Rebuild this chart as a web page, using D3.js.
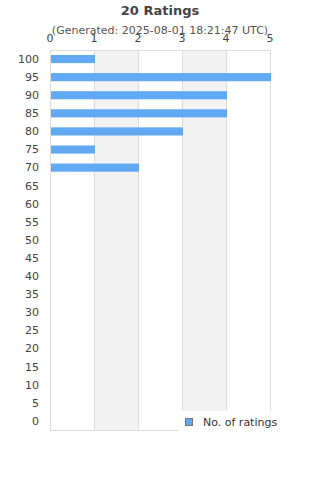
<!DOCTYPE html>
<html><head><meta charset="utf-8">
<script src="https://cdn.jsdelivr.net/npm/d3@7"></script>
<style>body{margin:0;background:#fff}svg{display:block;font-family:"DejaVu Sans",sans-serif}</style>
</head><body><svg id="c" width="320" height="480"></svg>
<script>
const categories = ["100","95","90","85","80","75","70","65","60","55","50","45","40","35","30","25","20","15","10","5","0"];
const ratings = [1,5,4,4,3,1,2,0,0,0,0,0,0,0,0,0,0,0,0,0,0];
const xTicks = [0,1,2,3,4,5];
const title = "20 Ratings";
const subtitle = "(Generated: 2025-08-01 18:21:47 UTC)";
const seriesName = "No. of ratings";

const svg = d3.select("#c");
const L = 50, R = 270, T = 50, B = 430;
const x = d3.scaleLinear().domain([0,5]).range([L,R]);
const y = d3.scaleBand().domain(categories).range([T,B]).paddingInner(0.55).paddingOuter(0.275);

// alternating bands
svg.append("g").selectAll("rect").data(xTicks.slice(0,-1).filter((d,i)=>i%2===1)).join("rect")
  .attr("x", d=>x(d)).attr("y", T).attr("width", d=>x(d+1)-x(d)).attr("height", B-T).attr("fill","#f2f2f2");
// grid lines
svg.append("g").selectAll("line").data(xTicks).join("line")
  .attr("x1", d=>x(d)+0.5).attr("x2", d=>x(d)+0.5).attr("y1", T).attr("y2", B)
  .attr("stroke","#dddddd").attr("stroke-width",1);
svg.append("line").attr("x1",L).attr("x2",R).attr("y1",T+0.5).attr("y2",T+0.5).attr("stroke","#dddddd");
svg.append("line").attr("x1",L).attr("x2",R).attr("y1",B+0.5).attr("y2",B+0.5).attr("stroke","#dddddd");

// bars
svg.append("g").selectAll("rect").data(categories).join("rect")
  .attr("x", x(0)+1).attr("y", d=>y(d)).attr("height", y.bandwidth())
  .attr("width", (d,i)=>Math.max(0, x(ratings[i])-x(0)))
  .attr("fill","#62a9f3");

// y labels
svg.append("g").selectAll("text").data(categories).join("text")
  .attr("x", 39).attr("y", d=>y(d)+y.bandwidth()/2).attr("dy","0.35em")
  .attr("text-anchor","end").attr("font-size",11).attr("fill","#444").text(d=>d);

// title
svg.append("text").attr("x",160).attr("y",15).attr("text-anchor","middle")
  .attr("font-size",13).attr("font-weight","bold").attr("fill","#444").text(title);
svg.append("text").attr("x",160).attr("y",34).attr("text-anchor","middle")
  .attr("font-size",11).attr("fill","#555").text(subtitle);

// x tick labels (top)
svg.append("g").selectAll("text").data(xTicks).join("text")
  .attr("x", d=>x(d)).attr("y", 42).attr("text-anchor","middle")
  .attr("font-size",11).attr("fill","#444").text(d=>d);

// legend
const lg = svg.append("g");
lg.append("rect").attr("x",178).attr("y",411).attr("width",108).attr("height",22).attr("fill","#fff");
lg.append("rect").attr("x",185.5).attr("y",418.5).attr("width",7).attr("height",7)
  .attr("fill","#62a9f3").attr("stroke","#777");
lg.append("text").attr("x",203).attr("y",422).attr("dy","0.35em").attr("font-size",11)
  .attr("fill","#333").text(seriesName);
</script></body></html>
